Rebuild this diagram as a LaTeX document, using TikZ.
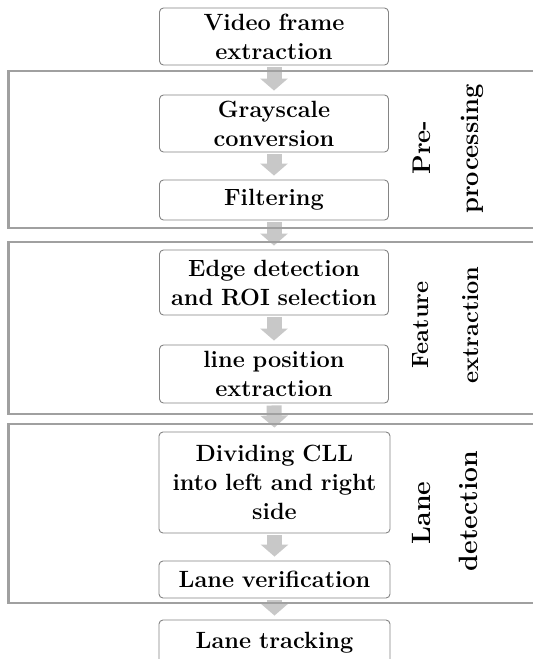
\documentclass[tikz,border=0pt]{standalone}
\usetikzlibrary{arrows.meta}
\definecolor{boxline}{HTML}{858585}
\definecolor{groupline}{HTML}{A0A0A0}
\definecolor{flowgray}{HTML}{C8C8C8}
\tikzset{
  stepbox/.style={draw=boxline, line width=0.9pt, rounded corners=4pt,
    fill=white, minimum width=229pt, text width=224pt, align=center,
    inner sep=0pt, font=\bfseries\fontsize{23.5}{29}\selectfont},
  groupframe/.style={draw=groupline, line width=2.6pt},
  grouplabel/.style={rotate=90, anchor=base, inner sep=0pt,
    font=\bfseries\fontsize{23.5}{28}\selectfont},
  biglabel/.style={grouplabel, font=\bfseries\fontsize{26.5}{30}\selectfont},
  flow/.style={flowgray, line width=15pt,
    -{Triangle[width=27pt,length=12pt]}, shorten <=2pt, shorten >=4pt}
}
\begin{document}
\begin{tikzpicture}[x=1pt, y=-1pt]
\useasboundingbox (0,0) rectangle (533,659);
\fill[white] (0,0) rectangle (533,659);
\begin{scope}
\clip (0,0) rectangle (533,659);

% processing steps
\node[stepbox, minimum height=57pt]  (vfe)    at (274,36.5)  {Video frame\\extraction};
\node[stepbox, minimum height=57pt]  (gray)   at (274,123.5) {Grayscale\\conversion};
\node[stepbox, minimum height=40pt]  (filt)   at (274,200)   {Filtering};
\node[stepbox, minimum height=65pt]  (edge)   at (274,282.5) {Edge detection\\and ROI selection};
\node[stepbox, minimum height=58pt]  (linex)  at (274,374)   {line position\\extraction};
\node[stepbox, minimum height=101pt, minimum width=231pt] (divide) at (274.5,482.5) {Dividing CLL\\into left and right\\side};
\node[stepbox, minimum height=37pt, minimum width=231pt]  (verif)  at (274.5,579.5) {Lane verification};
\node[stepbox, minimum height=46pt, minimum width=231pt]  (track)  at (274.5,643)   {Lane tracking};

% block arrows between steps
\draw[flow] (vfe.south)    -- (gray.north);
\draw[flow] (gray.south)   -- (filt.north);
\draw[flow] (filt.south)   -- (edge.north);
\draw[flow] (edge.south)   -- (linex.north);
\draw[flow] (linex.south)  -- (divide.north);
\draw[flow] (divide.south) -- (verif.north);
\draw[flow] (verif.south)  -- (track.north);

% stage frames
\draw[groupframe] (8.5,71)  rectangle (545,228);
\draw[groupframe] (8.5,242) rectangle (545,414);
\draw[groupframe] (8.5,424) rectangle (545,603);

% stage labels
\node[grouplabel, font=\bfseries\fontsize{25.5}{30}\selectfont] (preA) at (430,147.5) {Pre-};
\node[grouplabel, font=\bfseries\fontsize{25.5}{30}\selectfont] (preB) at (478,149) {processing};
\node[grouplabel] (featA) at (428,325)   {Feature};
\node[grouplabel] (featB) at (478,325)   {extraction};
\node[biglabel]   (laneA) at (430,513)   {Lane};
\node[biglabel]   (laneB) at (477,511)   {detection};
\end{scope}
\end{tikzpicture}
\end{document}
